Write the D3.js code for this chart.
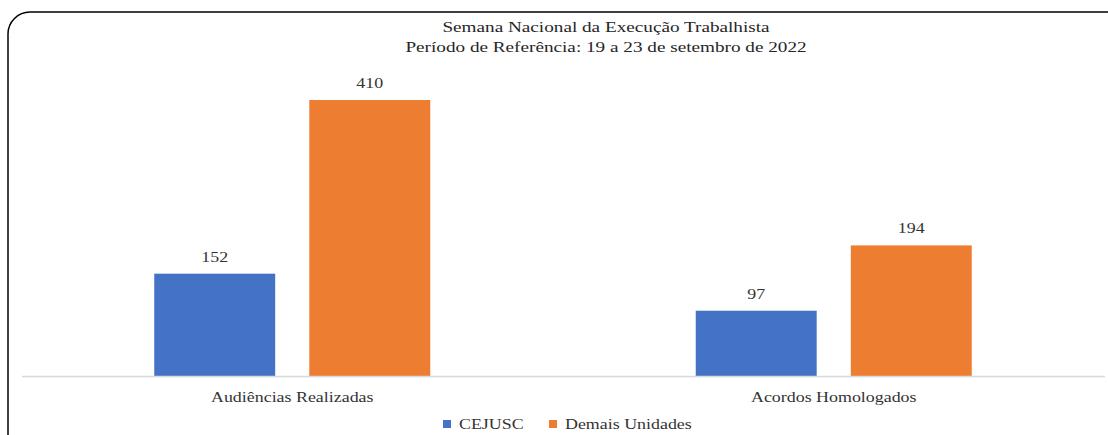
<!DOCTYPE html>
<html><head><meta charset="utf-8">
<script src="https://cdn.jsdelivr.net/npm/d3@7"></script>
<style>body{margin:0;background:#fff}svg{display:block}</style>
</head><body><div id="chart"></div>
<script>
const categories = ["Audiências Realizadas", "Acordos Homologados"];
const seriesNames = ["CEJUSC", "Demais Unidades"];
const cejusc = [152, 97];
const demais = [410, 194];
const titleLines = ["Semana Nacional da Execução Trabalhista", "Período de Referência: 19 a 23 de setembro de 2022"];
const colors = ["#4472C4", "#ED7D31"];

const W = 1108, H = 435;
const SX = 1.28; // horizontal text stretch
const font = "'Liberation Serif','Times New Roman',serif";
const svg = d3.select("#chart").append("svg").attr("width", W).attr("height", H);

function stretchText(sel, x, y) {
  sel.attr("transform", (d, i) => `translate(${x(d, i)},${y(d, i)}) scale(${SX},1)`);
}

svg.append("rect").attr("x", 8).attr("y", 12).attr("width", 1120).attr("height", 445)
  .attr("rx", 22).attr("ry", 22).attr("fill", "#fff").attr("stroke", "#000").attr("stroke-width", 1.5);

const m = {left: 21.5, right: 3.5, top: 60, bottom: 59};
const x0 = d3.scaleBand().domain(categories).range([m.left, W - m.right]).paddingInner(0).paddingOuter(0);
const x1 = d3.scaleBand().domain(seriesNames).range([0, x0.bandwidth()]).paddingInner(0.22).paddingOuter(0.856);
const y = d3.scaleLinear().domain([0, 410]).range([H - m.bottom, 100]);

const data = categories.map((c, i) => ({cat: c, vals: [cejusc[i], demais[i]]}));

const g = svg.append("g");
const groups = g.selectAll("g.grp").data(data).join("g").attr("transform", d => `translate(${x0(d.cat)},0)`);
groups.selectAll("rect").data(d => d.vals.map((v, j) => ({v, s: seriesNames[j], j})))
  .join("rect")
  .attr("x", d => x1(d.s)).attr("width", x1.bandwidth())
  .attr("y", d => y(d.v)).attr("height", d => y(0) - y(d.v))
  .attr("fill", d => colors[d.j]);
groups.selectAll("text").data(d => d.vals.map((v, j) => ({v, s: seriesNames[j], j})))
  .join("text")
  .call(stretchText, d => x1(d.s) + x1.bandwidth() / 2, d => y(d.v) - 12)
  .attr("text-anchor", "middle").attr("font-family", font).attr("font-size", 14).attr("fill", "#333")
  .text(d => d.v);

// axis
const axis = svg.append("g").attr("transform", `translate(0,${y(0)})`)
  .call(d3.axisBottom(x0).tickSize(0).tickPadding(16));
axis.select(".domain").attr("stroke", "#d9d9d9").attr("stroke-width", 1.5);
axis.selectAll(".tick text").attr("font-family", font).attr("font-size", 14).attr("fill", "#333")
  .attr("transform", `scale(${SX},1)`);

// title
svg.append("g").selectAll("text").data(titleLines).join("text")
  .call(stretchText, () => 606, (d, i) => 32 + i * 20)
  .attr("text-anchor", "middle")
  .attr("font-family", font).attr("font-size", 15).attr("fill", "#262626").text(d => d);

// legend
const legX = [443, 549];
const leg = svg.append("g").selectAll("g").data(seriesNames).join("g")
  .attr("transform", (d, i) => `translate(${legX[i]},420)`);
leg.append("rect").attr("width", 8).attr("height", 8).attr("fill", (d, i) => colors[i]);
leg.append("text").attr("transform", `translate(16,8.5) scale(${SX},1)`)
  .attr("font-family", font).attr("font-size", 14)
  .attr("fill", "#333").text(d => d);
</script></body></html>
